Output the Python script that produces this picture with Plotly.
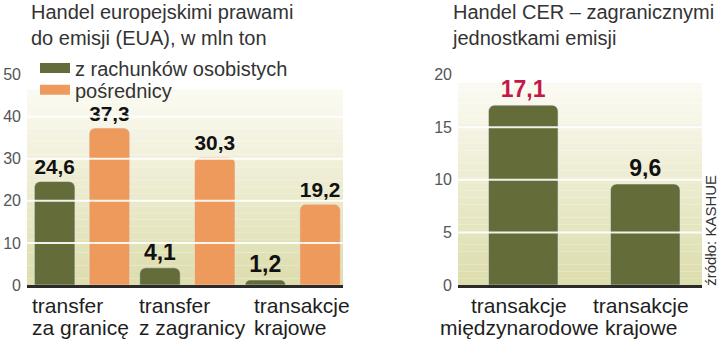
import plotly.graph_objects as go

# ---- data ----
left_categories = ["transfer\nza granicę", "transfer\nz zagranicy", "transakcje\nkrajowe"]
left_own = [24.6, 4.1, 1.2]          # z rachunków osobistych
left_brokers = [37.3, 30.3, 19.2]    # pośrednicy
left_ticks = [0, 10, 20, 30, 40, 50]

right_categories = ["transakcje\nmiędzynarodowe", "transakcje\nkrajowe"]
right_values = [17.1, 9.6]
right_ticks = [0, 5, 10, 15, 20]

series_names = ["z rachunków osobistych", "pośrednicy"]
left_title = "Handel europejskimi prawami<br>do emisji (EUA), w mln ton"
right_title = "Handel CER – zagranicznymi<br>jednostkami emisji"
source_text = "źródło: KASHUE"

GREEN = "#646d3a"
ORANGE = "#ee9a5c"
FONT = "Liberation Sans, Arial, sans-serif"

def fmt(v):
    return f"{v:.1f}".replace(".", ",")

W, H = 720, 354
LX = (27 / W, 343 / W)
RX = (458 / W, 702 / W)
YD = (1 - 291 / H, 1 - 70 / H)

fig = go.Figure()

label_font = dict(family=FONT, size=23, color="#111", weight="bold")

fig.add_trace(go.Bar(
    x=list(range(len(left_categories))), y=left_own, name=series_names[0],
    width=0.385, offset=-0.43, marker=dict(color=GREEN, cornerradius=6),
    text=[fmt(v) for v in left_own], textposition="outside", textfont=label_font,
    cliponaxis=False, showlegend=False, xaxis="x", yaxis="y"))
fig.add_trace(go.Bar(
    x=list(range(len(left_categories))), y=left_brokers, name=series_names[1],
    width=0.385, offset=0.09, marker=dict(color=ORANGE, cornerradius=6),
    text=[fmt(v) for v in left_brokers], textposition="outside", textfont=label_font,
    cliponaxis=False, showlegend=False, xaxis="x", yaxis="y"))

fig.add_trace(go.Bar(
    x=list(range(len(right_categories))), y=right_values, name="CER",
    width=0.57, offset=-0.25, marker=dict(color=GREEN, cornerradius=6),
    text=[fmt(v) for v in right_values], textposition="outside",
    textfont=dict(family=FONT, size=23, color=["#c4184a", "#111"], weight="bold"),
    cliponaxis=False, showlegend=False, xaxis="x2", yaxis="y2"))

# legend entries (wide swatches), each in its own legend box for tight spacing
for name, col, lg in zip(series_names, [GREEN, ORANGE], ["legend", "legend2"]):
    fig.add_trace(go.Scatter(x=[None], y=[None], mode="lines", name=name, legend=lg,
                             line=dict(color=col, width=15), xaxis="x", yaxis="y"))

# background gradient strips and gridlines above bars
shapes = []
def lerp(c1, c2, t):
    return "#%02x%02x%02x" % tuple(int(round(a + (b - a) * t)) for a, b in zip(c1, c2))
top_c = (252, 251, 243)
bot_c = (220, 220, 172)
for xr, yr, ytop in [("x domain", "y domain", 0.93), ("x2 domain", "y2 domain", 0.96)]:
    n = 30
    for i in range(n):
        y0 = ytop * i / n
        y1 = ytop * (i + 1) / n
        t = 1 - (i + 0.5) / n
        shapes.append(dict(type="rect", xref=xr, yref=yr, x0=0, x1=1, y0=y0, y1=y1,
                           fillcolor=lerp(top_c, bot_c, t), line=dict(width=0), layer="below"))
for xr, yr, ticks in [("x domain", "y", left_ticks), ("x2 domain", "y2", right_ticks)]:
    for t in ticks[1:-1]:
        shapes.append(dict(type="line", xref=xr, yref=yr, x0=0, x1=1, y0=t, y1=t,
                           line=dict(color="rgba(255,255,255,0.9)", width=2), layer="above"))

annotations = []
# category labels, one annotation per line for tight line spacing
LINE_Y = [1 - 313 / H, 1 - 336 / H]
LEFT_LABEL_START = [-0.47, -0.455, -0.36]   # left edge of each label block, category units
for i, c in enumerate(left_categories):
    for line, ly in zip(c.split("\n"), LINE_Y):
        annotations.append(dict(x=i + LEFT_LABEL_START[i], xref="x", y=ly, yref="paper",
                                yanchor="middle", xanchor="left", text=line, showarrow=False,
                                font=dict(family=FONT, size=21, color="#1e1e1e")))
for i, c in enumerate(right_categories):
    for line, ly in zip(c.split("\n"), LINE_Y):
        annotations.append(dict(x=i, xref="x2", y=ly, yref="paper", yanchor="middle",
                                xanchor="center", text=line, showarrow=False,
                                font=dict(family=FONT, size=21, color="#1e1e1e")))
annotations.append(dict(x=29 / W, y=1.0, xref="paper", yref="paper", xanchor="left", yanchor="top",
                        align="left", text=left_title, showarrow=False, yshift=9,
                        font=dict(family=FONT, size=20, color="#333")))
annotations.append(dict(x=450 / W, y=1.0, xref="paper", yref="paper", xanchor="left", yanchor="top",
                        align="left", text=right_title, showarrow=False, yshift=9,
                        font=dict(family=FONT, size=20, color="#333")))
annotations.append(dict(x=711 / W, y=1 - 234 / H, xref="paper", yref="paper", xanchor="center",
                        yanchor="middle", text=source_text, textangle=-90, showarrow=False,
                        font=dict(family=FONT, size=15, color="#333")))

axis_common = dict(showgrid=False, zeroline=False, showline=True, linecolor="#2a2a2a",
                   linewidth=2.5, ticks="", showticklabels=False, fixedrange=True)
yaxis_common = dict(showgrid=False, zeroline=False, showline=False, ticks="",
                    tickfont=dict(family=FONT, size=16, color="#555"), ticklabelstandoff=5)

legend_common = dict(xanchor="left", yanchor="middle", bgcolor="rgba(0,0,0,0)",
                     font=dict(family=FONT, size=20, color="#333"), itemwidth=30)

fig.update_layout(
    width=W, height=H, margin=dict(l=0, r=0, t=0, b=0),
    paper_bgcolor="white", plot_bgcolor="rgba(0,0,0,0)",
    barmode="overlay",
    xaxis=dict(domain=list(LX), range=[-0.5, len(left_categories) - 0.5], **axis_common),
    yaxis=dict(domain=list(YD), range=[0, 50], tickvals=left_ticks, anchor="x", **yaxis_common),
    xaxis2=dict(domain=list(RX), range=[-0.5, len(right_categories) - 0.5], anchor="y2", **axis_common),
    yaxis2=dict(domain=list(YD), range=[0, 20], tickvals=right_ticks, anchor="x2", **yaxis_common),
    legend=dict(x=35 / W, y=1 - 63 / H, **legend_common),
    legend2=dict(x=35 / W, y=1 - 86 / H, **legend_common),
    shapes=shapes, annotations=annotations,
)

fig.write_html("out.html")
